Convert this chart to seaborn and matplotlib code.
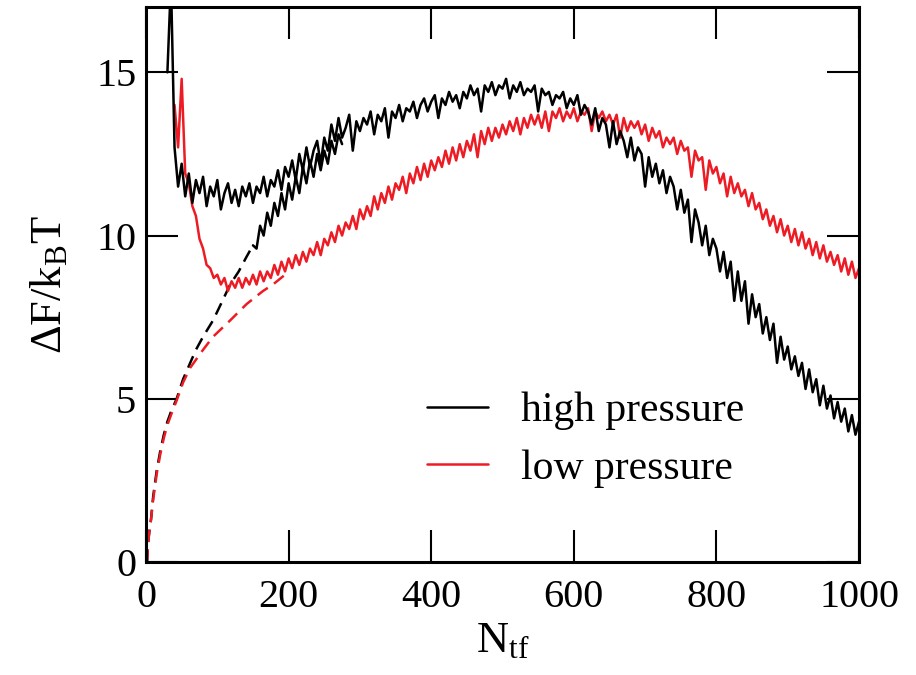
import numpy as np
import pandas as pd
import matplotlib
matplotlib.use("Agg")
import matplotlib.pyplot as plt
import seaborn as sns

# ---- data -------------------------------------------------------------
# high pressure, main window (N_tf = 30 ... 1000, step 5)
n_high = np.arange(30, 1001, 5)
f_high = [
    15.0, 17.8, 12.7, 11.5, 12.2, 11.2, 11.9, 11.0, 11.7, 11.3,   # 30-75
    11.8, 10.9, 11.5, 11.2, 11.7, 10.8, 11.3, 11.6, 11.0, 11.4,   # 80-125
    10.9, 11.5, 11.2, 11.6, 11.0, 11.5, 11.3, 11.8, 11.2, 11.7,   # 130-175
    11.5, 12.0, 11.4, 12.1, 11.8, 12.3, 11.7, 12.5, 12.0, 12.7,   # 180-225
    12.1, 12.6, 12.9, 12.2, 13.0, 12.6, 13.4, 12.9, 13.6, 13.0,   # 230-275
    13.3, 13.7, 12.6, 13.5, 13.2, 13.6, 13.4, 13.8, 13.1, 13.7,   # 280-325
    13.5, 13.9, 13.0, 13.8, 13.6, 14.0, 13.5, 13.9, 13.8, 14.1,   # 330-375
    13.6, 14.0, 14.2, 13.8, 14.1, 14.3, 13.6, 14.2, 14.0, 14.4,   # 380-425
    14.1, 14.3, 13.9, 14.4, 14.2, 14.6, 14.3, 14.5, 13.8, 14.6,   # 430-475
    14.4, 14.7, 14.3, 14.6, 14.5, 14.8, 14.2, 14.6, 14.4, 14.7,   # 480-525
    14.3, 14.5, 14.4, 14.6, 13.8, 14.5, 14.3, 14.4, 14.0, 14.3,   # 530-575
    14.2, 14.4, 13.9, 14.2, 14.0, 14.3, 13.7, 14.0, 13.8, 13.4,   # 580-625
    13.9, 13.2, 13.6, 13.4, 12.7, 13.5, 12.8, 13.2, 12.9, 12.4,   # 630-675
    13.0, 12.3, 12.7, 12.5, 11.5, 12.4, 11.8, 12.2, 11.6, 12.0,   # 680-725
    11.3, 11.8, 11.5, 10.8, 11.4, 10.7, 11.1, 9.8, 10.8, 10.4,    # 730-775
    9.7, 10.3, 9.4, 9.9, 9.6, 8.9, 9.5, 8.7, 9.2, 8.0,            # 780-825
    8.9, 8.0, 8.6, 7.3, 8.2, 7.5, 7.9, 7.0, 7.5, 6.8,             # 830-875
    7.3, 6.1, 6.9, 6.2, 6.6, 5.9, 6.3, 5.7, 6.1, 5.3,             # 880-925
    5.9, 5.2, 5.6, 4.8, 5.4, 4.7, 5.1, 4.4, 4.9, 4.3,             # 930-975
    4.7, 4.0, 4.5, 3.9, 4.3,                                      # 980-1000
]

# high pressure, small-N window (N_tf = 150 ... 275, step 5)
n_high_low = np.arange(150, 276, 5)
f_high_low = [
    9.7, 9.6, 10.3, 10.0, 10.7, 10.3, 11.0, 10.6, 11.3, 10.8,
    11.6, 11.1, 11.8, 11.3, 12.1, 11.6, 12.3, 11.8, 12.5, 12.0,
    12.6, 12.2, 12.9, 12.5, 13.1, 12.8,
]

# high pressure, extrapolation towards N_tf = 0
n_high_fit = [1.5, 3, 5, 7, 10, 15, 20, 25, 30, 35, 43, 52, 60, 70, 80,
              94, 105, 118, 130, 141, 150]
f_high_fit = [0.0, 0.6, 1.0, 1.3, 2.0, 2.8, 3.4, 3.9, 4.3, 4.6, 5.0, 5.6,
              6.0, 6.5, 6.9, 7.4, 7.9, 8.5, 8.9, 9.35, 9.7]

# low pressure, main window (N_tf = 40 ... 1000, step 5)
n_low = np.arange(40, 1001, 5)
f_low = [
    14.0, 12.7, 14.8, 11.9, 11.6, 10.9, 10.6, 9.9, 9.6, 9.1,      # 40-85
    9.0, 8.7, 8.8, 8.5, 8.7, 8.3, 8.6, 8.4, 8.7, 8.4,             # 90-135
    8.7, 8.5, 8.8, 8.5, 8.9, 8.6, 8.9, 8.7, 9.1, 8.8,             # 140-185
    9.2, 8.9, 9.3, 9.0, 9.4, 9.1, 9.5, 9.2, 9.6, 9.4,             # 190-235
    9.8, 9.4, 9.9, 9.7, 10.1, 9.8, 10.3, 10.0, 10.4, 10.2,        # 240-285
    10.6, 10.2, 10.8, 10.5, 10.9, 10.6, 11.2, 10.8, 11.3, 11.0,   # 290-335
    11.5, 11.1, 11.6, 11.4, 11.8, 11.3, 11.9, 11.6, 12.1, 11.7,   # 340-385
    12.2, 11.8, 12.3, 12.0, 12.4, 12.1, 12.6, 12.2, 12.7, 12.3,   # 390-435
    12.8, 12.4, 12.9, 12.6, 13.1, 12.4, 13.2, 12.8, 13.3, 12.9,   # 440-485
    13.3, 13.0, 13.4, 13.1, 13.5, 13.2, 13.6, 13.1, 13.6, 13.3,   # 490-535
    13.7, 13.4, 13.7, 13.3, 13.8, 13.2, 13.8, 13.6, 13.9, 13.5,   # 540-585
    13.8, 13.6, 13.9, 13.5, 13.8, 13.7, 13.9, 13.2, 13.8, 13.6,   # 590-635
    13.8, 13.5, 13.7, 13.4, 13.7, 13.0, 13.6, 13.2, 13.5, 13.3,   # 640-685
    13.5, 13.1, 13.4, 12.9, 13.3, 13.0, 13.2, 12.7, 13.0, 12.8,   # 690-735
    13.0, 12.5, 12.9, 12.6, 12.7, 11.8, 12.6, 12.3, 12.4, 11.4,   # 740-785
    12.3, 11.9, 12.1, 11.6, 11.9, 11.2, 11.8, 11.3, 11.6, 11.2,   # 790-835
    11.4, 10.9, 11.3, 10.8, 11.0, 10.5, 10.8, 10.3, 10.6, 10.1,   # 840-885
    10.5, 10.0, 10.3, 9.8, 10.2, 9.7, 10.1, 9.6, 9.9, 9.4,        # 890-935
    9.8, 9.3, 9.7, 9.2, 9.5, 9.1, 9.4, 8.9, 9.3, 8.8,             # 940-985
    9.2, 8.7, 9.0,                                                # 990-1000
]

# low pressure, extrapolation towards N_tf = 0
n_low_fit = [1.5, 3, 5, 7, 10, 15, 20, 25, 30, 35, 43, 52, 62, 80, 94,
             118, 141, 164, 178, 195]
f_low_fit = [0.0, 0.6, 1.0, 1.3, 1.9, 2.7, 3.3, 3.8, 4.2, 4.5, 4.95, 5.5,
             5.95, 6.5, 6.9, 7.4, 7.9, 8.3, 8.5, 8.8]

legend_labels = ["high pressure", "low pressure"]
x_ticks = [0, 200, 400, 600, 800, 1000]
y_ticks = [0, 5, 10, 15]

# ---- style ------------------------------------------------------------
sns.set_style("ticks")
plt.rcParams["font.family"] = ["Liberation Serif", "DejaVu Serif"]
plt.rcParams["mathtext.fontset"] = "custom"
plt.rcParams["mathtext.rm"] = "Liberation Serif"
plt.rcParams["mathtext.it"] = "Liberation Serif"
plt.rcParams["text.color"] = "black"
plt.rcParams["axes.labelcolor"] = "black"
plt.rcParams["xtick.color"] = "black"
plt.rcParams["ytick.color"] = "black"

BLACK = "#000000"
RED = "#ed1c24"
LW = 1.8
DASH = (0, (5, 3))

fig = plt.figure(figsize=(9.16, 6.75), dpi=100)
ax = fig.add_axes([0.1594, 0.1674, 0.9378 - 0.1594, 0.9896 - 0.1674])


def draw(x, y, color, ls="-", label="_nolegend_"):
    df = pd.DataFrame({"N": x, "F": y})
    sns.lineplot(data=df, x="N", y="F", ax=ax, color=color, lw=LW,
                 linestyle=ls, errorbar=None, label=label, legend=False)


draw(n_high_fit, f_high_fit, BLACK, ls=DASH)
draw(n_low_fit, f_low_fit, RED, ls=DASH)
draw(n_high_low, f_high_low, BLACK)
draw(n_low, f_low, RED, label=legend_labels[1])
draw(n_high, f_high, BLACK, label=legend_labels[0])

ax.set_xlim(0, 1000)
ax.set_ylim(0, 17)
ax.set_xticks(x_ticks)
ax.set_yticks(y_ticks)
ax.set_xticklabels([str(t) for t in x_ticks])
ax.set_yticklabels([str(t) for t in y_ticks])
ax.tick_params(direction="in", top=True, right=True, length=23, width=1.5,
               labelsize=29, colors="black")
ax.tick_params(axis="x", pad=12)
ax.tick_params(axis="y", pad=7)
for s in ax.spines.values():
    s.set_linewidth(2.2)
    s.set_color("black")

ax.set_xlabel(r"$\mathrm{N_{tf}}$", fontsize=32, labelpad=4, color="black")
ax.set_ylabel(r"$\mathrm{\Delta F/k_B T}$", fontsize=32, labelpad=19,
              color="black")

h_high = ax.lines[-1]
h_low = ax.lines[-2]
leg = ax.legend([h_high, h_low], legend_labels, loc="upper left",
                bbox_to_anchor=(0.394, 0.307), frameon=False, fontsize=30,
                handlelength=1.46, handletextpad=0.8, labelspacing=0.46,
                borderpad=0, borderaxespad=0)
for t in leg.get_texts():
    t.set_color("black")

fig.savefig("out.png", dpi=100)
